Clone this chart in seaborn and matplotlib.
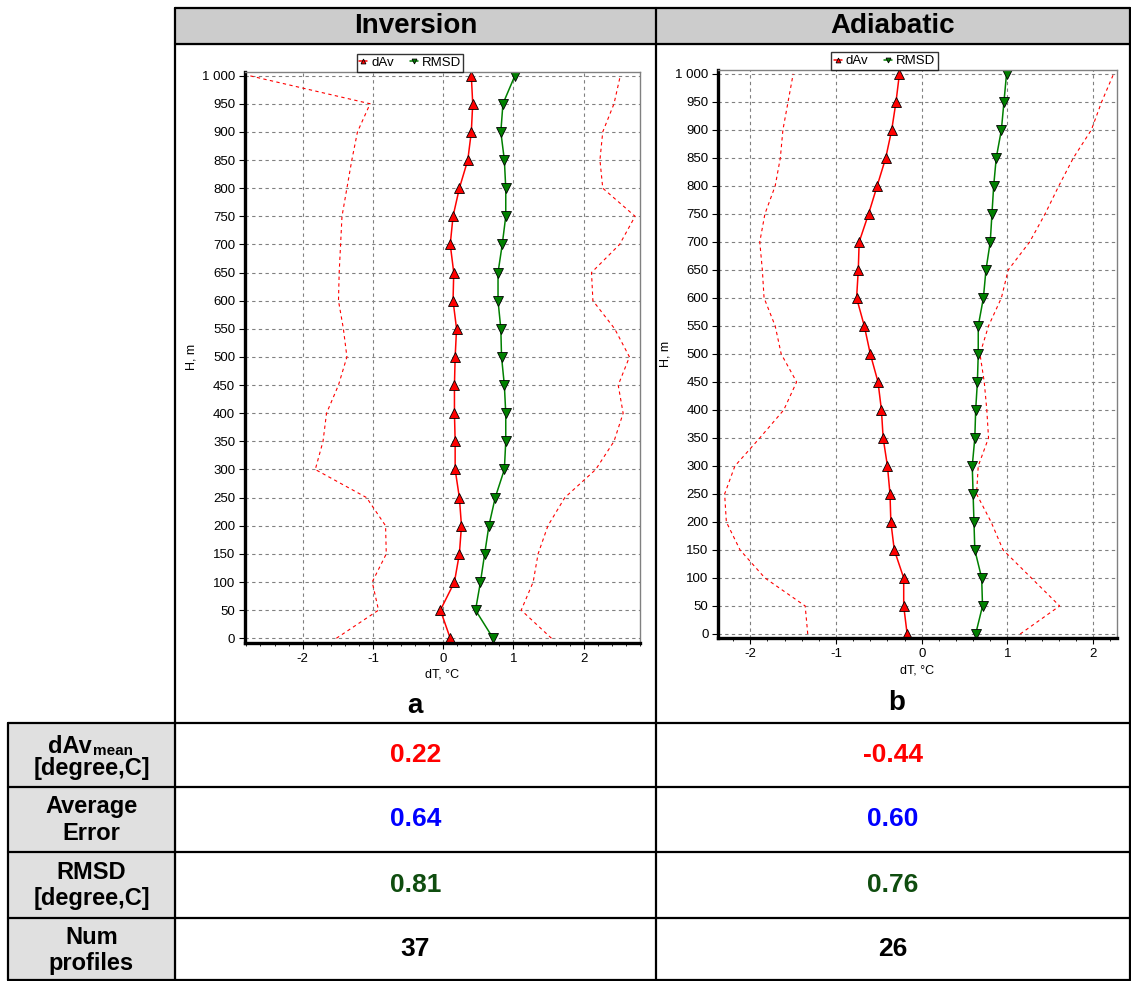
import numpy as np
import seaborn as sns
import matplotlib.pyplot as plt
from matplotlib.ticker import MultipleLocator, FuncFormatter

# heights of the profile levels, m
heights = [0, 50, 100, 150, 200, 250, 300, 350, 400, 450, 500,
           550, 600, 650, 700, 750, 800, 850, 900, 950, 1000]

# Inversion (a)
dav_inv = [0.10, -0.04, 0.16, 0.23, 0.26, 0.23, 0.17, 0.17, 0.16, 0.16, 0.17,
           0.19, 0.14, 0.15, 0.10, 0.14, 0.23, 0.35, 0.40, 0.42, 0.40]
rmsd_inv = [0.71, 0.46, 0.53, 0.59, 0.65, 0.74, 0.87, 0.89, 0.89, 0.87, 0.83,
            0.82, 0.78, 0.78, 0.84, 0.89, 0.89, 0.87, 0.82, 0.85, 1.02]
lo_inv = [-1.52, -0.92, -1.01, -0.81, -0.82, -1.09, -1.82, -1.71, -1.66, -1.49, -1.37,
          -1.42, -1.49, -1.48, -1.46, -1.44, -1.37, -1.30, -1.22, -1.04, -2.76]
hi_inv = [1.54, 1.11, 1.28, 1.35, 1.49, 1.73, 2.17, 2.43, 2.56, 2.49, 2.65,
          2.44, 2.13, 2.11, 2.51, 2.73, 2.27, 2.23, 2.27, 2.43, 2.52]

# Adiabatic (b)
dav_adi = [-0.17, -0.21, -0.21, -0.32, -0.36, -0.37, -0.40, -0.45, -0.47, -0.51, -0.60,
           -0.67, -0.76, -0.74, -0.73, -0.62, -0.52, -0.42, -0.35, -0.30, -0.26]
rmsd_adi = [0.63, 0.71, 0.70, 0.62, 0.61, 0.60, 0.59, 0.62, 0.63, 0.65, 0.66,
            0.66, 0.72, 0.75, 0.80, 0.82, 0.84, 0.87, 0.93, 0.96, 0.99]
lo_adi = [-1.33, -1.36, -1.83, -2.12, -2.28, -2.30, -2.18, -1.89, -1.61, -1.46, -1.64,
          -1.71, -1.84, -1.86, -1.89, -1.83, -1.71, -1.65, -1.62, -1.56, -1.50]
hi_adi = [1.15, 1.61, 1.28, 0.95, 0.81, 0.64, 0.66, 0.78, 0.76, 0.73, 0.68,
          0.78, 0.93, 1.01, 1.26, 1.44, 1.60, 1.77, 1.98, 2.10, 2.24]

columns = ["Inversion", "Adiabatic"]
panel_letters = ["a", "b"]
row_labels = [["dAv", "[degree,C]"], ["Average", "Error"],
              ["RMSD", "[degree,C]"], ["Num", "profiles"]]
table_values = [["0.22", "-0.44"], ["0.64", "0.60"], ["0.81", "0.76"], ["37", "26"]]
value_colors = ["#ff0000", "#0000ff", "#0f4d0f", "#000000"]

sns.set_style("white")
plt.rcParams['font.family'] = ['Liberation Sans', 'DejaVu Sans']
plt.rcParams['text.color'] = 'black'
plt.rcParams['axes.labelcolor'] = 'black'
plt.rcParams['xtick.color'] = 'black'
plt.rcParams['ytick.color'] = 'black'
plt.rcParams['axes.unicode_minus'] = False

W, H = 1131, 981
fig = plt.figure(figsize=(W / 100, H / 100), dpi=100)

# background axes in pixel coordinates for the table
bg = fig.add_axes([0, 0, 1, 1])
bg.set_xlim(0, W)
bg.set_ylim(H, 0)
bg.axis('off')

# grey header and grey row-label cells
bg.add_patch(plt.Rectangle((175, 7.5), 1130 - 175, 36, color='#cccccc', zorder=0))
row_edges = [723, 787, 852, 918, 980]
for r in range(4):
    bg.add_patch(plt.Rectangle((8, row_edges[r]), 175 - 8, row_edges[r + 1] - row_edges[r],
                               color='#e0e0e0', zorder=0))

lw = 1.6
bg.plot([175, 1130], [7.5, 7.5], color='black', lw=lw)
bg.plot([175, 1130], [43.5, 43.5], color='black', lw=lw)
for y in row_edges:
    bg.plot([8, 1130], [y, y], color='black', lw=lw)
bg.plot([175, 175], [7.5, 980], color='black', lw=lw)
bg.plot([656, 656], [7.5, 980], color='black', lw=lw)
bg.plot([1129.5, 1129.5], [7.5, 980], color='black', lw=lw)
bg.plot([8, 8], [723, 980], color='black', lw=lw)

col_centers = [415.5, 893]
for name, cx in zip(columns, col_centers):
    bg.text(cx, 26, name, ha='center', va='center', fontsize=20, fontweight='bold')

# row labels
bg.text(92, 753, "dAv", ha='right', va='baseline', fontsize=17, fontweight='bold')
bg.text(93, 755, "mean", ha='left', va='baseline', fontsize=11, fontweight='bold')
row_centers = [755, 819.5, 885, 949.5]
for r, (l1, l2) in enumerate(row_labels):
    yc = row_centers[r]
    if r > 0:
        bg.text(91.5, yc - 12.5, l1, ha='center', va='center', fontsize=17, fontweight='bold')
    bg.text(91.5, yc + 14, l2, ha='center', va='center', fontsize=17, fontweight='bold')
    for c in range(2):
        bg.text(col_centers[c], yc, table_values[r][c], ha='center', va='center',
                fontsize=19, fontweight='bold', color=value_colors[r])


def px_axes(x0, x1, ytop, ybot):
    return fig.add_axes([x0 / W, 1 - ybot / H, (x1 - x0) / W, (ybot - ytop) / H])


def profile(ax, dav, rmsd, lo, hi, xlim, ylim):
    sns.lineplot(x=lo, y=heights, orient='y', color='red', lw=0.8,
                 linestyle=(0, (3, 3)), ax=ax)
    sns.lineplot(x=hi, y=heights, orient='y', color='red', lw=0.8,
                 linestyle=(0, (3, 3)), ax=ax)
    sns.lineplot(x=dav, y=heights, orient='y', color='red', lw=1.1, marker='^',
                 markersize=7, markerfacecolor='red', markeredgecolor='black',
                 markeredgewidth=0.6, label='dAv', ax=ax)
    sns.lineplot(x=rmsd, y=heights, orient='y', color='#008000', lw=1.1, marker='v',
                 markersize=7, markerfacecolor='#008000', markeredgecolor='black',
                 markeredgewidth=0.6, label='RMSD', ax=ax)
    ax.set_xlim(*xlim)
    ax.set_ylim(*ylim)
    ax.xaxis.set_major_locator(MultipleLocator(1))
    ax.xaxis.set_minor_locator(MultipleLocator(0.2))
    ax.yaxis.set_major_locator(MultipleLocator(50))
    ax.yaxis.set_major_formatter(FuncFormatter(lambda v, p: f"{int(v):,}".replace(",", " ")))
    ax.grid(True, which='major', color='#808080', lw=0.8, linestyle=(0, (3, 3)))
    for s in ['left', 'bottom']:
        ax.spines[s].set_color('black')
        ax.spines[s].set_linewidth(2.4)
    for s in ['top', 'right']:
        ax.spines[s].set_color('#808080')
        ax.spines[s].set_linewidth(1)
    ax.tick_params(axis='both', which='major', direction='out', length=4, width=0.8,
                   labelsize=9.5, pad=3, left=True, bottom=True)
    ax.tick_params(axis='x', which='minor', direction='out', length=2.5, width=0.6, bottom=True)
    ax.set_xlabel("dT, °C", fontsize=9, labelpad=3)
    ax.set_ylabel("H, m", fontsize=9, labelpad=3)
    ax.legend(loc='lower center', bbox_to_anchor=(0.418, 1.0), ncol=2, fontsize=9.5,
              frameon=True, fancybox=False, edgecolor='black', borderaxespad=0,
              handlelength=0.6, markerscale=0.5, columnspacing=1.2, handletextpad=0.3,
              borderpad=0.2)
    ax.get_legend().get_frame().set_linewidth(1.0)


ax_a = px_axes(245, 640, 71.7, 643)
profile(ax_a, dav_inv, rmsd_inv, lo_inv, hi_inv, (-2.82, 2.80), (-8.4, 1007))
ax_b = px_axes(718.3, 1116.7, 70, 638.3)
profile(ax_b, dav_adi, rmsd_adi, lo_adi, hi_adi, (-2.374, 2.276), (-7.7, 1007))

bg.text(415, 706, panel_letters[0], ha='center', va='center', fontsize=20, fontweight='bold')
bg.text(897, 703, panel_letters[1], ha='center', va='center', fontsize=20, fontweight='bold')

fig.savefig("out.png", dpi=100)
